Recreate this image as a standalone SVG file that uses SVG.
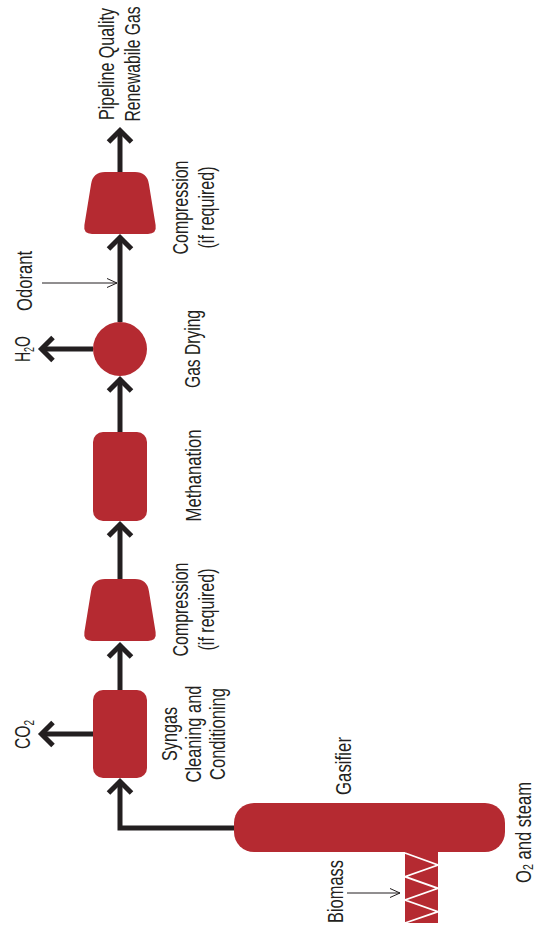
<svg xmlns="http://www.w3.org/2000/svg" width="536" height="933" viewBox="0 0 536 933">
<style>
.lbl{font-family:"Liberation Sans",Arial,sans-serif;font-size:22.5px;fill:#231f20;text-anchor:middle}
.sub{font-size:14.5px}
.red{fill:#b52a31}
.thick{fill:none;stroke:#231f20;stroke-width:5;stroke-linejoin:miter}
.thin{fill:none;stroke:#231f20;stroke-width:1}
</style>
<defs>
<marker id="ah" markerUnits="userSpaceOnUse" viewBox="-18 -18 24 36" refX="0" refY="0" markerWidth="24" markerHeight="36" orient="auto">
<path d="M-11.5,-11.5 L0,0 L-11.5,11.5" fill="none" stroke="#231f20" stroke-width="5" stroke-linejoin="miter"/>
</marker>
<marker id="ahs" markerUnits="userSpaceOnUse" viewBox="-14 -8 16 16" refX="0" refY="0" markerWidth="16" markerHeight="16" orient="auto">
<path d="M-10,-4.5 L0,0 L-10,4.5" fill="none" stroke="#231f20" stroke-width="1"/>
</marker>
</defs>
<rect width="536" height="933" fill="#ffffff"/>

<g id="connectors">
<path class="thick" d="M235,828 H120 V781.5" marker-end="url(#ah)"/>
<path class="thick" d="M93,734 H41.5" marker-end="url(#ah)"/>
<path class="thick" d="M120,690 V645.5" marker-end="url(#ah)"/>
<path class="thick" d="M120,579 V524.5" marker-end="url(#ah)"/>
<path class="thick" d="M120,432 V379.5" marker-end="url(#ah)"/>
<path class="thick" d="M93,349 H41.5" marker-end="url(#ah)"/>
<path class="thick" d="M120,322 V237.5" marker-end="url(#ah)"/>
<path class="thick" d="M120,172 V130.5" marker-end="url(#ah)"/>
<path class="thin" d="M42,283 H117" marker-end="url(#ahs)"/>
<path class="thin" d="M347,893 H400" marker-end="url(#ahs)"/>
</g>

<g id="gasifier">
<rect class="red" x="234" y="803" width="271" height="49" rx="20"/>
<rect class="red" x="405" y="850" width="33" height="73"/>
<polyline points="405,853 438,865 405,876.7 438,888.3 405,900 438,911.7 405,923" fill="none" stroke="#ffffff" stroke-width="1.8"/>
<text class="lbl" transform="translate(351,766) rotate(-90)" textLength="58" lengthAdjust="spacingAndGlyphs">Gasifier</text>
</g>

<g id="syngas">
<rect class="red" x="93" y="690" width="54" height="88" rx="10"/>
<text class="lbl" transform="translate(176.5,734) rotate(-90)" textLength="54" lengthAdjust="spacingAndGlyphs">Syngas</text>
<text class="lbl" transform="translate(200.5,734) rotate(-90)" textLength="97" lengthAdjust="spacingAndGlyphs">Cleaning and</text>
<text class="lbl" transform="translate(224.5,734) rotate(-90)" textLength="92" lengthAdjust="spacingAndGlyphs">Conditioning</text>
</g>

<g id="compression2">
<path class="red" d="M105,579 H135 Q147,579 148.9,590.9 L155.6,632.1 Q157,641 148,641 H92 Q83,641 84.4,632.1 L91.1,590.9 Q93,579 105,579 Z"/>
<text class="lbl" transform="translate(188,609.5) rotate(-90)" textLength="94" lengthAdjust="spacingAndGlyphs">Compression</text>
<text class="lbl" transform="translate(213.5,609.5) rotate(-90)" textLength="82" lengthAdjust="spacingAndGlyphs">(if required)</text>
</g>

<g id="methanation">
<rect class="red" x="93" y="432" width="54" height="89" rx="10"/>
<text class="lbl" transform="translate(201,475.5) rotate(-90)" textLength="92" lengthAdjust="spacingAndGlyphs">Methanation</text>
</g>

<g id="gas-drying">
<circle class="red" cx="120" cy="349" r="27"/>
<text class="lbl" transform="translate(200,349) rotate(-90)" textLength="78" lengthAdjust="spacingAndGlyphs">Gas Drying</text>
</g>

<g id="compression1">
<path class="red" d="M105,172 H135 Q147,172 148.9,183.9 L155.6,225.1 Q157,234 148,234 H92 Q83,234 84.4,225.1 L91.1,183.9 Q93,172 105,172 Z"/>
<text class="lbl" transform="translate(188,207.5) rotate(-90)" textLength="94" lengthAdjust="spacingAndGlyphs">Compression</text>
<text class="lbl" transform="translate(213.5,207.5) rotate(-90)" textLength="82" lengthAdjust="spacingAndGlyphs">(if required)</text>
</g>

<g id="co2">
<text class="lbl" transform="translate(30,734.5) rotate(-90)" textLength="29" lengthAdjust="spacingAndGlyphs">CO<tspan class="sub" dy="4">2</tspan></text>
</g>

<g id="h2o">
<text class="lbl" transform="translate(30,349) rotate(-90)" textLength="26" lengthAdjust="spacingAndGlyphs">H<tspan class="sub" dy="4">2</tspan><tspan dy="-4">O</tspan></text>
</g>

<g id="odorant">
<text class="lbl" transform="translate(32,281) rotate(-90)" textLength="60" lengthAdjust="spacingAndGlyphs">Odorant</text>
</g>

<g id="output">
<text class="lbl" transform="translate(114,64) rotate(-90) scale(0.717,1)">Pipeline Quality</text>
<text class="lbl" transform="translate(139.5,64) rotate(-90) scale(0.697,1)">Renewabile Gas</text>
</g>

<g id="biomass">
<text class="lbl" transform="translate(343,891.5) rotate(-90)" textLength="63" lengthAdjust="spacingAndGlyphs">Biomass</text>
</g>

<g id="o2-steam">
<text class="lbl" transform="translate(530.5,832.5) rotate(-90)" textLength="101" lengthAdjust="spacingAndGlyphs">O<tspan class="sub" dy="2.5">2</tspan><tspan dy="-2.5"> and steam</tspan></text>
</g>
</svg>
